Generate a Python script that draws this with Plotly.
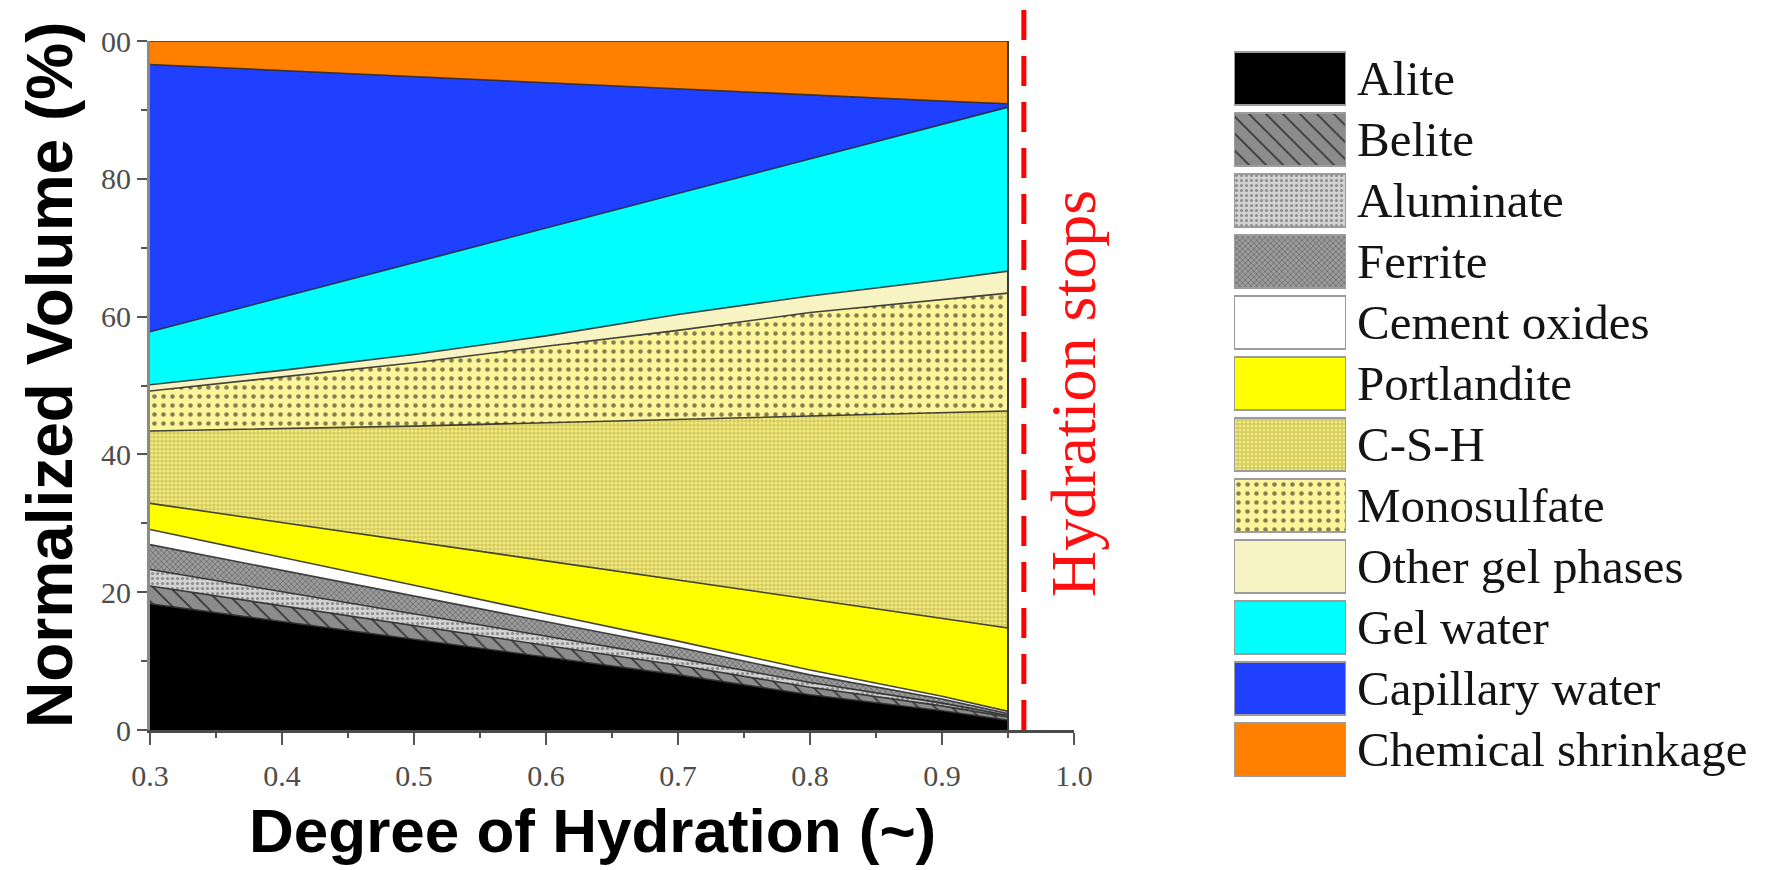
import plotly.graph_objects as go

# page is rendered with an 8px body margin: figure is sized to fit the window exactly
OFF = 8
W, H = 1773 - OFF, 870 - OFF


def xp(px):
    return (px - OFF) / W


def yp(py):
    return 1 - (py - OFF) / H


# ---------------- data ----------------
hydration = [0.30, 0.40, 0.50, 0.60, 0.70, 0.80, 0.90, 0.95]

phases = ["Alite", "Belite", "Aluminate", "Ferrite", "Cement oxides", "Portlandite",
          "C-S-H", "Monosulfate", "Other gel phases", "Gel water", "Capillary water",
          "Chemical shrinkage"]

alite = [18.3, 15.7, 13.1, 10.5, 8.0, 5.1, 2.8, 1.4]
belite = [2.6, 2.3, 2.0, 1.7, 1.4, 1.1, 0.7, 0.5]
aluminate = [2.4, 2.1, 1.7, 1.4, 1.0, 0.7, 0.4, 0.2]
ferrite = [3.6, 3.1, 2.6, 2.1, 1.6, 1.1, 0.6, 0.3]
cement_oxides = [2.2, 1.9, 1.6, 1.2, 0.9, 0.7, 0.4, 0.3]
portlandite = [3.8, 5.0, 6.4, 7.7, 8.9, 10.3, 11.3, 12.1]
csh = [10.5, 13.6, 16.7, 20.0, 23.3, 26.6, 29.9, 31.5]
monosulfate = [5.8, 7.6, 9.2, 11.1, 12.9, 15.0, 16.4, 17.1]
other_gel = [0.9, 0.9, 1.2, 1.5, 2.3, 2.4, 2.8, 3.2]
gel_water = [7.7, 10.6, 13.3, 15.6, 17.6, 19.9, 22.6, 23.8]
capillary_water = [38.8, 32.9, 27.0, 21.1, 15.1, 9.3, 3.4, 0.5]
chemical_shrinkage = [3.4, 4.3, 5.2, 6.1, 7.0, 7.8, 8.7, 9.1]

hydration_stop = 0.962

x_ticks = [0.3, 0.4, 0.5, 0.6, 0.7, 0.8, 0.9, 1.0]
x_ticklabels = ["0.3", "0.4", "0.5", "0.6", "0.7", "0.8", "0.9", "1.0"]
y_ticks = [0, 20, 40, 60, 80, 100]
y_ticklabels = ["0", "20", "40", "60", "80", "00"]

series = [alite, belite, aluminate, ferrite, cement_oxides, portlandite, csh,
          monosulfate, other_gel, gel_water, capillary_water, chemical_shrinkage]

# ---------------- styles ----------------
styles = {
    "Alite": dict(color="#000000"),
    "Belite": dict(color="#8c8c8c", pattern=dict(shape="\\", bgcolor="#8c8c8c", fgcolor="#3a3a3a",
                                                 size=12, solidity=0.15, fillmode="replace")),
    "Aluminate": dict(color="#cfcfcf", pattern=dict(shape=".", bgcolor="#d2d2d2", fgcolor="#8e8e8e",
                                                    size=5, solidity=0.3, fillmode="replace")),
    "Ferrite": dict(color="#969696", pattern=dict(shape="x", bgcolor="#9c9c9c", fgcolor="#5e5e5e",
                                                  size=4, solidity=0.3, fillmode="replace")),
    "Cement oxides": dict(color="#ffffff"),
    "Portlandite": dict(color="#ffff00"),
    "C-S-H": dict(color="#dad272", pattern=dict(shape=".", bgcolor="#d3cb62", fgcolor="#f3eb7c",
                                                size=4, solidity=0.45, fillmode="replace")),
    "Monosulfate": dict(color="#f6ee9a", pattern=dict(shape=".", bgcolor="#fcf59a", fgcolor="#857f52",
                                                      size=9, solidity=0.2, fillmode="replace")),
    "Other gel phases": dict(color="#f8f3c2"),
    "Gel water": dict(color="#00ffff"),
    "Capillary water": dict(color="#2040ff"),
    "Chemical shrinkage": dict(color="#ff8000"),
}

fig = go.Figure()

for name, vals in zip(phases, series):
    st = styles[name]
    kw = dict(x=hydration, y=vals, name=name, stackgroup="one", mode="lines",
              line=dict(color="rgba(35,35,35,0.85)", width=1.6),
              fillcolor=st["color"], hoverinfo="skip", showlegend=False,
              xaxis="x", yaxis="y")
    if st.get("pattern"):
        kw["fillpattern"] = st["pattern"]
    fig.add_trace(go.Scatter(**kw))

# ---------------- custom legend (bars on a second axis pair) ----------------
for name in phases:
    st = styles[name]
    marker = dict(color=st["color"], line=dict(color="#9c9c9c", width=2))
    if st.get("pattern"):
        marker["pattern"] = st["pattern"]
    fig.add_trace(go.Bar(x=[1], y=[name], base=0, orientation="h", width=0.87,
                         marker=marker, xaxis="x2", yaxis="y2", showlegend=False,
                         hoverinfo="skip"))

annotations = []
for name in phases:
    annotations.append(dict(text=name, x=xp(1355), xref="paper", y=name, yref="y2",
                            xanchor="left", yanchor="middle", showarrow=False,
                            font=dict(family="Liberation Serif", size=49, color="#141414")))

annotations += [
    dict(text="<b>Degree of Hydration (~)</b>", x=xp(592), y=yp(830), xref="paper", yref="paper",
         xanchor="center", yanchor="middle", showarrow=False,
         font=dict(family="Liberation Sans", size=62, color="black")),
    dict(text="<b>Normalized Volume (%)</b>", x=xp(50), y=yp(375), xref="paper", yref="paper",
         xanchor="center", yanchor="middle", showarrow=False, textangle=-90,
         font=dict(family="Liberation Sans", size=64, color="black")),
    dict(text="Hydration stops", x=xp(1074), y=yp(394), xref="paper", yref="paper",
         xanchor="center", yanchor="middle", showarrow=False, textangle=-90,
         font=dict(family="Liberation Serif", size=64, color="#ff1010")),
]

shapes = [
    dict(type="line", xref="x", yref="paper", x0=hydration_stop, x1=hydration_stop,
         y0=yp(730), y1=yp(9), line=dict(color="#ff0000", width=5, dash="30px,16px")),
    dict(type="line", xref="x", yref="y", x0=hydration[-1], x1=hydration[-1], y0=0, y1=100,
         line=dict(color="#3a3a3a", width=2)),
]

tickfont = dict(family="Liberation Serif", size=30, color="#4d4d4d")

fig.update_layout(
    width=W, height=H, margin=dict(l=0, r=0, t=0, b=0, autoexpand=False),
    paper_bgcolor="white", plot_bgcolor="white", showlegend=False,
    xaxis=dict(domain=[xp(150), xp(1074)], range=[0.3, 1.0], tickvals=x_ticks, ticktext=x_ticklabels,
               ticks="outside", ticklen=12, tickwidth=2, tickcolor="#555555", automargin=False,
               showline=True, linecolor="#4a4a4a", linewidth=3, showgrid=False, zeroline=False,
               tickfont=tickfont, ticklabelstandoff=5, anchor="y",
               minor=dict(dtick=0.05, tick0=0.3, ticks="outside", ticklen=5, tickwidth=2,
                          tickcolor="#555555", showgrid=False)),
    yaxis=dict(domain=[yp(730), yp(41)], range=[0, 100], tickvals=y_ticks, ticktext=y_ticklabels,
               ticks="outside", ticklen=10, tickwidth=2, tickcolor="#555555", automargin=False,
               showline=True, linecolor="#8a8a8a", linewidth=3, showgrid=False, zeroline=False,
               tickfont=tickfont, ticklabelstandoff=0, anchor="x",
               minor=dict(dtick=10, tick0=0, ticks="outside", ticklen=6, tickwidth=2,
                          tickcolor="#555555", showgrid=False)),
    xaxis2=dict(domain=[xp(1234), xp(1346)], range=[0, 1], visible=False, anchor="y2",
                fixedrange=True, automargin=False),
    yaxis2=dict(domain=[yp(780), yp(48)], type="category", categoryorder="array",
                categoryarray=phases, autorange="reversed", visible=False, anchor="x2",
                fixedrange=True, automargin=False),
    bargap=0,
    annotations=annotations,
    shapes=shapes,
)

fig.write_html("out.html")
